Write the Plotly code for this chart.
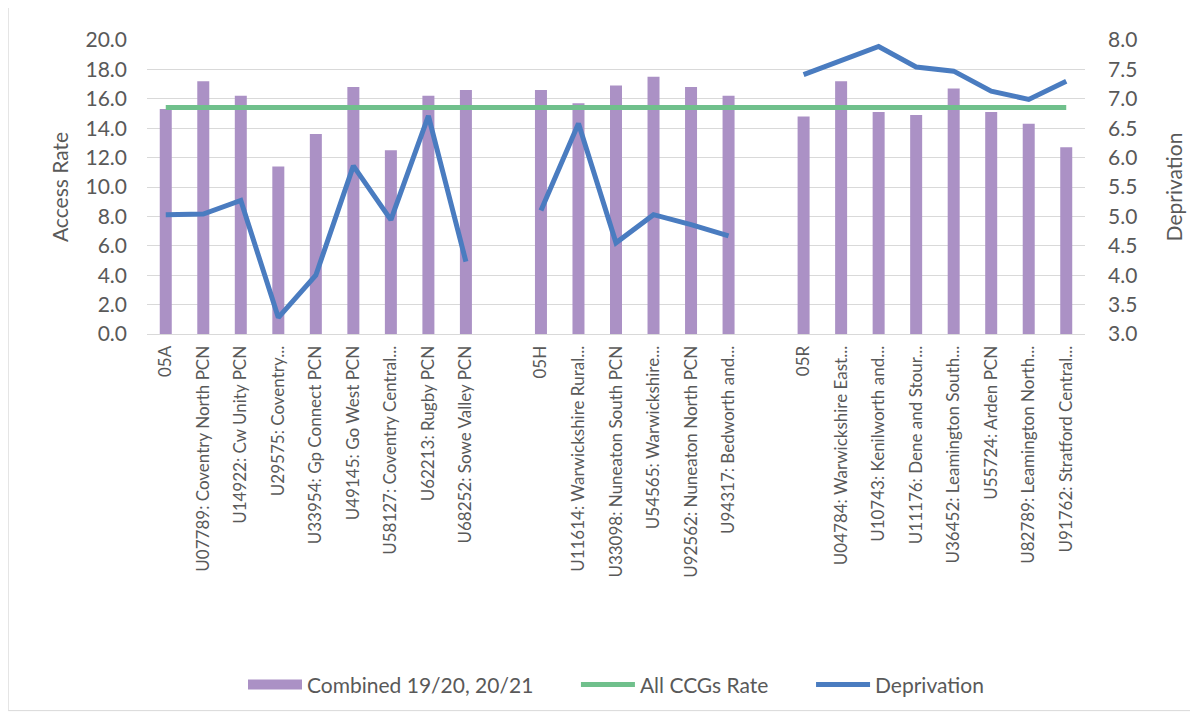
import plotly.graph_objects as go

# categories (blank entries separate the three CCG groups)
categories = [
    "05A", "U07789: Coventry North PCN", "U14922: Cw Unity PCN", "U29575: Coventry...",
    "U33954: Gp Connect PCN", "U49145: Go West PCN", "U58127: Coventry Central...",
    "U62213: Rugby PCN", "U68252: Sowe Valley PCN", " ",
    "05H", "U11614: Warwickshire Rural...", "U33098: Nuneaton South PCN",
    "U54565: Warwickshire...", "U92562: Nuneaton North PCN", "U94317: Bedworth and...", "  ",
    "05R", "U04784: Warwickshire East...", "U10743: Kenilworth and...", "U11176: Dene and Stour...",
    "U36452: Leamington South...", "U55724: Arden PCN", "U82789: Leamington North...",
    "U91762: Stratford Central...",
]

combined = [15.3, 17.2, 16.2, 11.4, 13.6, 16.8, 12.5, 16.2, 16.6, None,
            16.6, 15.7, 16.9, 17.5, 16.8, 16.2, None,
            14.8, 17.2, 15.1, 14.9, 16.7, 15.1, 14.3, 12.7]

all_ccgs_rate = [15.4] * len(categories)

deprivation = [5.03, 5.04, 5.27, 3.28, 4.0, 5.86, 4.94, 6.71, 4.23, None,
               5.1, 6.58, 4.55, 5.03, 4.86, 4.67, None,
               7.41, 7.64, 7.89, 7.54, 7.47, 7.13, 6.99, 7.30]

left_ticks = [0, 2, 4, 6, 8, 10, 12, 14, 16, 18, 20]
right_ticks = [3.0, 3.5, 4.0, 4.5, 5.0, 5.5, 6.0, 6.5, 7.0, 7.5, 8.0]

FONT = "Lato"
TXT = "#595959"
PURPLE = "#AB91C5"
PAD = "\u00a0" * 7  # keeps legend entries spaced out like Excel

fig = go.Figure()
fig.add_bar(x=categories, y=combined, name="Combined 19/20, 20/21",
            marker_color=PURPLE, marker_line_width=0, showlegend=False)
# legend-only entry so the bar key is drawn as a wide block like Excel
fig.add_scatter(x=[None], y=[None], name="Combined 19/20, 20/21" + PAD, mode="lines",
                line=dict(color=PURPLE, width=14))
fig.add_scatter(x=categories, y=all_ccgs_rate, name="All CCGs Rate" + PAD, mode="lines",
                line=dict(color="#70C08C", width=5))
fig.add_scatter(x=categories, y=deprivation, name="Deprivation", mode="lines",
                line=dict(color="#4A7CC0", width=5), yaxis="y2", connectgaps=False)

# page has an 8px body margin, so the figure is sized to fit the window
fig.update_layout(
    width=1190, height=707,
    paper_bgcolor="white", plot_bgcolor="white",
    font=dict(family=FONT, color=TXT),
    margin=dict(l=139, r=113, t=32, b=380),
    bargap=0.68,
    showlegend=True,
    legend=dict(orientation="h", x=0.5, xanchor="center", y=-1.186, yanchor="middle",
                font=dict(size=21, color=TXT), traceorder="normal",
                itemwidth=54),
    xaxis=dict(type="category", tickangle=-90, tickfont=dict(size=17, color=TXT),
               showgrid=False, showline=True, linecolor="#d9d9d9", ticks="",
               automargin=False, ticklabelstandoff=4),
    yaxis=dict(range=[0, 20], tickvals=left_ticks, tickformat=".1f",
               tickfont=dict(size=21, color=TXT), gridcolor="#d9d9d9", gridwidth=1,
               zeroline=False, automargin=False, ticklabelstandoff=19,
               title=dict(text="Access Rate", font=dict(size=21, color=TXT), standoff=11)),
    yaxis2=dict(range=[3, 8], tickvals=right_ticks, tickformat=".1f", overlaying="y",
                side="right", showgrid=False, zeroline=False, automargin=False,
                ticklabelstandoff=22,
                tickfont=dict(size=21, color=TXT),
                title=dict(text="Deprivation", font=dict(size=21, color=TXT), standoff=30)),
    shapes=[dict(type="rect", xref="paper", yref="paper", x0=-0.148, x1=1.2, y0=-1.281, y1=1.15,
                 line=dict(color="#d9d9d9", width=1))],
)

fig.write_html("out.html")
